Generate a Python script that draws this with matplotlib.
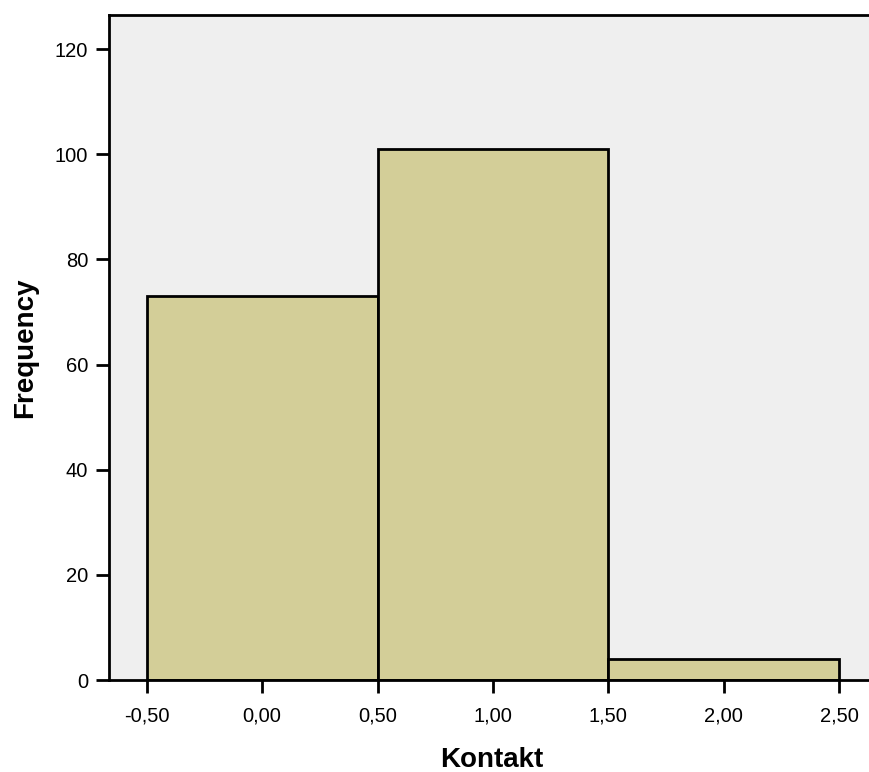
import matplotlib.pyplot as plt
import numpy as np

plt.rcParams['font.family'] = ['Liberation Sans', 'DejaVu Sans']

# histogram bins (bin edges) and counts
bin_edges = [-0.5, 0.5, 1.5, 2.5]
counts = [73, 101, 4]
x_ticks = [-0.5, 0.0, 0.5, 1.0, 1.5, 2.0, 2.5]
x_tick_labels = ["-0,50", "0,00", "0,50", "1,00", "1,50", "2,00", "2,50"]
y_ticks = [0, 20, 40, 60, 80, 100, 120]

fig = plt.figure(figsize=(8.7, 7.72), dpi=100)
W, H = 870, 772
left, right, top, bottom = 108.7, 874, 15, 680
ax = fig.add_axes([left / W, 1 - bottom / H, (right - left) / W, (bottom - top) / H])
ax.set_facecolor("#EFEFEF")

widths = np.diff(bin_edges)
ax.bar(bin_edges[:-1], counts, width=widths, align="edge",
       color="#D3CE98", edgecolor="black", linewidth=2, zorder=2)

ax.set_xlim(-0.665, -0.665 + (right - left) / 230.8)
ax.set_ylim(0, (bottom - top) / 5.258)

ax.set_xticks(x_ticks)
ax.set_xticklabels(x_tick_labels)
ax.set_yticks(y_ticks)
ax.tick_params(axis="both", direction="out", length=9.4, width=2, labelsize=14.5)
ax.tick_params(axis="x", pad=10)
ax.tick_params(axis="y", pad=5.5)

for s in ["left", "bottom", "top", "right"]:
    ax.spines[s].set_linewidth(2)

ax.set_xlabel("Kontakt", fontsize=20, fontweight="bold", labelpad=15)
ax.set_ylabel("Frequency", fontsize=20, fontweight="bold", labelpad=12)

fig.savefig("out.png", dpi=100)
